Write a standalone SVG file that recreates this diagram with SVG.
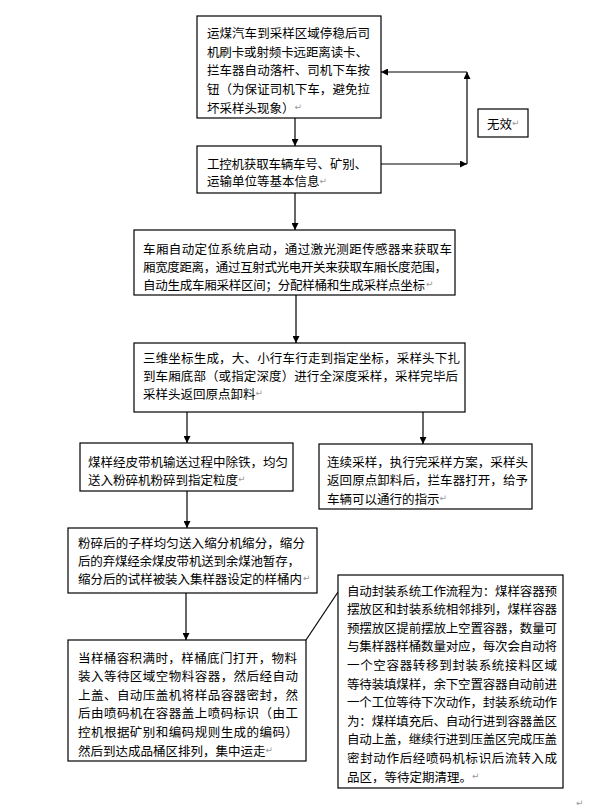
<svg xmlns="http://www.w3.org/2000/svg" width="595" height="812" viewBox="0 0 595 812">
<style>
.box{fill:#fff;stroke:#000;stroke-width:1.2}
.t{font-family:"Noto Sans CJK SC","Noto Sans",sans-serif;font-size:12.5px;fill:#000;dominant-baseline:central}
.pm{font-family:"DejaVu Sans",sans-serif;font-size:9px;fill:#999}
.ln{stroke:#000;stroke-width:1.2;fill:none}
</style>
<defs>
<marker id="ah" viewBox="0 0 10 10" refX="10" refY="5" markerWidth="7" markerHeight="7" markerUnits="userSpaceOnUse" orient="auto">
<path d="M0,0 L10,5 L0,10 z" fill="#000"/>
</marker>
</defs>
<rect width="595" height="812" fill="#fff"/>
<g id="connectors">
<line class="ln" x1="295" y1="118" x2="295" y2="146" marker-end="url(#ah)"/>
<line class="ln" x1="381" y1="164" x2="467" y2="164" marker-end="url(#ah)"/>
<line class="ln" x1="467" y1="164" x2="467" y2="72" marker-end="url(#ah)"/>
<line class="ln" x1="467" y1="72" x2="381" y2="72" marker-end="url(#ah)"/>
<line class="ln" x1="295" y1="193" x2="295" y2="230" marker-end="url(#ah)"/>
<line class="ln" x1="296" y1="295" x2="296" y2="343" marker-end="url(#ah)"/>
<line class="ln" x1="187" y1="412" x2="187" y2="443" marker-end="url(#ah)"/>
<line class="ln" x1="423" y1="412" x2="423" y2="444" marker-end="url(#ah)"/>
<line class="ln" x1="187" y1="491" x2="187" y2="528" marker-end="url(#ah)"/>
<line class="ln" x1="186" y1="593" x2="186" y2="640" marker-end="url(#ah)"/>
<line class="ln" x1="306" y1="640" x2="338" y2="592" stroke-width="0.8"/>
</g>
<g id="n1">
<rect class="box" x="197" y="16" width="184" height="102"/>
<text class="t" x="207" y="32.5" textLength="163" lengthAdjust="spacing">运煤汽车到采样区域停稳后司</text>
<text class="t" x="207" y="51.2" textLength="161" lengthAdjust="spacing">机刷卡或射频卡远距离读卡、</text>
<text class="t" x="207" y="69.9" textLength="163" lengthAdjust="spacing">拦车器自动落杆、司机下车按</text>
<text class="t" x="207" y="88.6" textLength="163" lengthAdjust="spacing">钮（为保证司机下车，避免拉</text>
<text class="t" x="207" y="107.3">坏采样头现象）<tspan class="pm">↵</tspan></text>
</g>
<g id="n2">
<rect class="box" x="197" y="146" width="184" height="47"/>
<text class="t" x="207" y="163" textLength="160" lengthAdjust="spacing">工控机获取车辆车号、矿别、</text>
<text class="t" x="207" y="180.5">运输单位等基本信息<tspan class="pm">↵</tspan></text>
</g>
<g id="n_invalid">
<rect class="box" x="478" y="109" width="50" height="28"/>
<text class="t" x="487" y="123">无效<tspan class="pm">↵</tspan></text>
</g>
<g id="n3">
<rect class="box" x="134" y="230" width="321" height="65"/>
<text class="t" x="143" y="248" textLength="309" lengthAdjust="spacing">车厢自动定位系统启动，通过激光测距传感器来获取车</text>
<text class="t" x="143" y="266" textLength="304" lengthAdjust="spacing">厢宽度距离，通过互射式光电开关来获取车厢长度范围，</text>
<text class="t" x="143" y="284" textLength="282" lengthAdjust="spacing">自动生成车厢采样区间；分配样桶和生成采样点坐标</text>
<text class="pm" x="426" y="287">↵</text>
</g>
<g id="n4">
<rect class="box" x="134" y="343" width="331" height="69"/>
<text class="t" x="143" y="357" textLength="317" lengthAdjust="spacing">三维坐标生成，大、小行车行走到指定坐标，采样头下扎</text>
<text class="t" x="143" y="375" textLength="315" lengthAdjust="spacing">到车厢底部（或指定深度）进行全深度采样，采样完毕后</text>
<text class="t" x="143" y="393">采样头返回原点卸料<tspan class="pm">↵</tspan></text>
</g>
<g id="n5">
<rect class="box" x="80" y="443" width="213" height="48"/>
<text class="t" x="88" y="461" textLength="200" lengthAdjust="spacing">煤样经皮带机输送过程中除铁，均匀</text>
<text class="t" x="88" y="479">送入粉碎机粉碎到指定粒度<tspan class="pm">↵</tspan></text>
</g>
<g id="n6">
<rect class="box" x="319" y="444" width="213" height="65"/>
<text class="t" x="327" y="461" textLength="201" lengthAdjust="spacing">连续采样，执行完采样方案，采样头</text>
<text class="t" x="327" y="479" textLength="201" lengthAdjust="spacing">返回原点卸料后，拦车器打开，给予</text>
<text class="t" x="327" y="498">车辆可以通行的指示<tspan class="pm">↵</tspan></text>
</g>
<g id="n7">
<rect class="box" x="68" y="528" width="249" height="65"/>
<text class="t" x="78" y="542" textLength="227" lengthAdjust="spacing">粉碎后的子样均匀送入缩分机缩分，缩分</text>
<text class="t" x="78" y="560" textLength="222" lengthAdjust="spacing">后的弃煤经余煤皮带机送到余煤池暂存，</text>
<text class="t" x="78" y="578" textLength="224" lengthAdjust="spacing">缩分后的试样被装入集样器设定的样桶内</text>
<text class="pm" x="303" y="581">↵</text>
</g>
<g id="n8">
<rect class="box" x="68" y="640" width="238" height="121"/>
<text class="t" x="78" y="657" textLength="219" lengthAdjust="spacing">当样桶容积满时，样桶底门打开，物料</text>
<text class="t" x="78" y="675.6" textLength="220" lengthAdjust="spacing">装入等待区域空物料容器，然后经自动</text>
<text class="t" x="78" y="694.2" textLength="220" lengthAdjust="spacing">上盖、自动压盖机将样品容器密封，然</text>
<text class="t" x="78" y="712.8" textLength="220" lengthAdjust="spacing">后由喷码机在容器盖上喷码标识（由工</text>
<text class="t" x="78" y="731.4" textLength="220" lengthAdjust="spacing">控机根据矿别和编码规则生成的编码）</text>
<text class="t" x="78" y="750">然后到达成品桶区排列，集中运走<tspan class="pm">↵</tspan></text>
</g>
<g id="n9">
<rect class="box" x="338" y="575" width="225" height="213"/>
<text class="t" x="347" y="590" textLength="210" lengthAdjust="spacing">自动封装系统工作流程为：煤样容器预</text>
<text class="t" x="347" y="608.6" textLength="210" lengthAdjust="spacing">摆放区和封装系统相邻排列，煤样容器</text>
<text class="t" x="347" y="627.2" textLength="210" lengthAdjust="spacing">预摆放区提前摆放上空置容器，数量可</text>
<text class="t" x="347" y="645.8" textLength="210" lengthAdjust="spacing">与集样器样桶数量对应，每次会自动将</text>
<text class="t" x="347" y="664.4" textLength="210" lengthAdjust="spacing">一个空容器转移到封装系统接料区域</text>
<text class="t" x="347" y="683" textLength="210" lengthAdjust="spacing">等待装填煤样，余下空置容器自动前进</text>
<text class="t" x="347" y="701.6" textLength="210" lengthAdjust="spacing">一个工位等待下次动作，封装系统动作</text>
<text class="t" x="347" y="720.2" textLength="210" lengthAdjust="spacing">为：煤样填充后、自动行进到容器盖区</text>
<text class="t" x="347" y="738.8" textLength="210" lengthAdjust="spacing">自动上盖，继续行进到压盖区完成压盖</text>
<text class="t" x="347" y="757.4" textLength="210" lengthAdjust="spacing">密封动作后经喷码机标识后流转入成</text>
<text class="t" x="347" y="776">品区，等待定期清理。<tspan class="pm">↵</tspan></text>
</g>
<text class="pm" x="576" y="806">↵</text>
</svg>
